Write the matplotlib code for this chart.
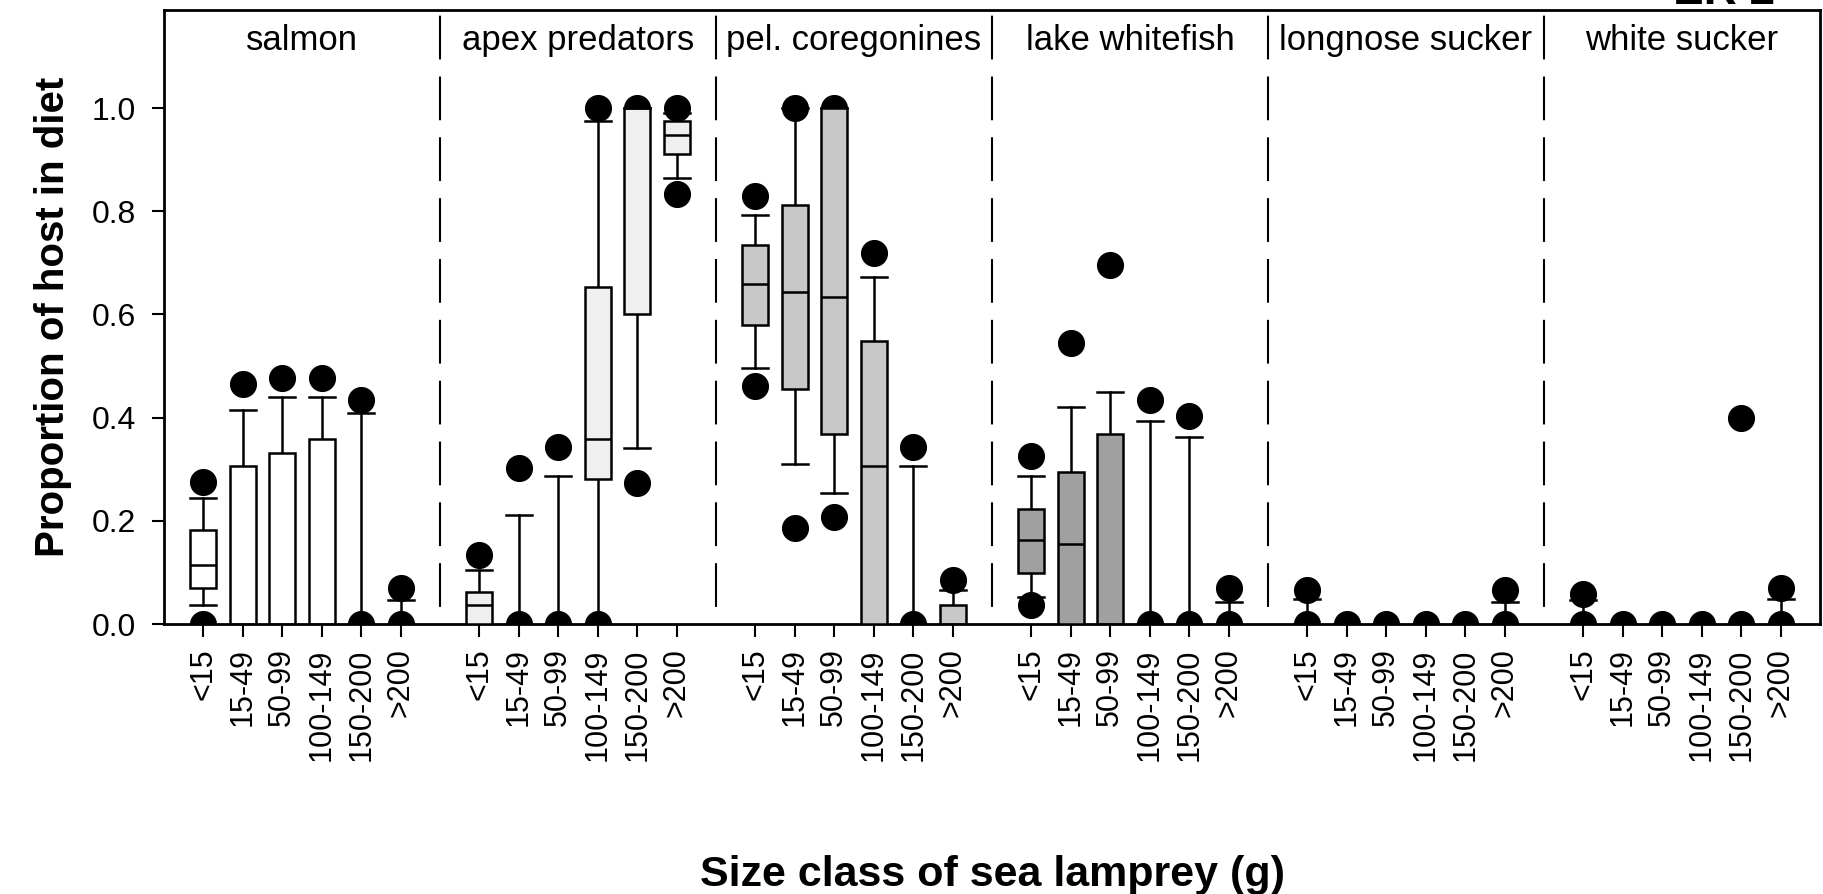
import numpy as np
import matplotlib
matplotlib.use('Agg')
import matplotlib.pyplot as plt

plt.rcParams['font.family'] = ['Liberation Sans', 'DejaVu Sans']

hosts = ['salmon', 'apex predators', 'pel. coregonines', 'lake whitefish',
         'longnose sucker', 'white sucker']
size_classes = ['<15', '15-49', '50-99', '100-149', '150-200', '>200']
host_colors = ['white', '#efefef', '#c8c8c8', '#a0a0a0', '#a0a0a0', '#a0a0a0']

# box summaries, one row per host, one column per size class
q1 = [
    [0.069, 0.0, 0.0, 0.0, 0.0, 0.0],
    [0.0, 0.0, 0.0, 0.281, 0.600, 0.911],
    [0.579, 0.456, 0.368, 0.0, 0.0, 0.0],
    [0.098, 0.0, 0.0, 0.0, 0.0, 0.0],
    [0.0, 0.0, 0.0, 0.0, 0.0, 0.0],
    [0.0, 0.0, 0.0, 0.0, 0.0, 0.0],
]
med = [
    [0.114, 0.0, 0.0, 0.0, 0.0, 0.0],
    [0.037, 0.0, 0.0, 0.358, 1.0, 0.947],
    [0.658, 0.643, 0.633, 0.307, 0.0, 0.0],
    [0.162, 0.156, 0.0, 0.0, 0.0, 0.0],
    [0.0, 0.0, 0.0, 0.0, 0.0, 0.0],
    [0.0, 0.0, 0.0, 0.0, 0.0, 0.0],
]
q3 = [
    [0.182, 0.307, 0.331, 0.358, 0.0, 0.0],
    [0.062, 0.0, 0.0, 0.653, 1.0, 0.974],
    [0.735, 0.813, 1.0, 0.549, 0.0, 0.037],
    [0.223, 0.295, 0.368, 0.0, 0.0, 0.0],
    [0.0, 0.0, 0.0, 0.0, 0.0, 0.0],
    [0.0, 0.0, 0.0, 0.0, 0.0, 0.0],
]
whislo = [
    [0.037, 0.0, 0.0, 0.0, 0.0, 0.0],
    [0.0, 0.0, 0.0, 0.0, 0.342, 0.865],
    [0.497, 0.311, 0.253, 0.0, 0.0, 0.0],
    [0.052, 0.0, 0.0, 0.0, 0.0, 0.0],
    [0.0, 0.0, 0.0, 0.0, 0.0, 0.0],
    [0.0, 0.0, 0.0, 0.0, 0.0, 0.0],
]
whishi = [
    [0.244, 0.415, 0.440, 0.440, 0.409, 0.047],
    [0.104, 0.212, 0.286, 0.974, 1.0, 0.99],
    [0.792, 1.0, 1.0, 0.673, 0.307, 0.065],
    [0.286, 0.420, 0.449, 0.394, 0.363, 0.042],
    [0.049, 0.0, 0.0, 0.0, 0.0, 0.042],
    [0.047, 0.0, 0.0, 0.0, 0.0, 0.049],
]
outliers = [
    [[0.276, 0.0], [0.466, 0.0], [0.476, 0.0], [0.476, 0.0], [0.435, 0.0], [0.069, 0.0]],
    [[0.133, 0.0], [0.302, 0.0], [0.343, 0.0], [1.0, 0.0], [1.0, 0.273], [1.0, 0.834]],
    [[0.830, 0.461], [1.0, 0.187], [1.0, 0.208], [0.719, 0.0], [0.343, 0.0], [0.085, 0.0]],
    [[0.326, 0.037], [0.544, 0.0], [0.695, 0.0], [0.435, 0.0], [0.404, 0.0], [0.069, 0.0]],
    [[0.066, 0.0], [0.0], [0.0], [0.0], [0.0], [0.066, 0.0]],
    [[0.059, 0.0], [0.0], [0.0], [0.0], [0.399, 0.0], [0.069, 0.0]],
]

fig = plt.figure(figsize=(18.23, 8.94), dpi=100)
ax = fig.add_axes([164 / 1823, 270 / 894, 1656 / 1823, 614 / 894])

nclass = len(size_classes)
slot = nclass + 1
lw = 1.8
all_pos = []
for i, host in enumerate(hosts):
    stats = []
    for j in range(nclass):
        stats.append(dict(med=med[i][j], q1=q1[i][j], q3=q3[i][j],
                          whislo=whislo[i][j], whishi=whishi[i][j],
                          fliers=outliers[i][j]))
    pos = [slot * i + j + 1 for j in range(nclass)]
    all_pos += pos
    ax.bxp(stats, positions=pos, widths=0.66, capwidths=0.66,
           patch_artist=True, manage_ticks=False,
           boxprops=dict(facecolor=host_colors[i], edgecolor='black', linewidth=lw, zorder=3),
           medianprops=dict(color='black', linewidth=lw, zorder=4),
           whiskerprops=dict(color='black', linewidth=lw, zorder=2),
           capprops=dict(color='black', linewidth=lw, zorder=2),
           flierprops=dict(marker='o', markerfacecolor='black', markeredgecolor='black',
                           markersize=18.5, linestyle='none', zorder=2))
    ax.text(slot * i + slot / 2, 1.112, host, ha='center', va='baseline', fontsize=25)
    if i > 0:
        ax.axvline(slot * i, color='black', linewidth=1.5,
                   linestyle=(21, (21, 8.2)), zorder=1)

ax.set_xlim(0, slot * len(hosts))
ax.set_ylim(0, 1.19)
ax.set_xticks(all_pos)
ax.set_xticklabels(size_classes * len(hosts), rotation=90, fontsize=22)
ax.set_yticks(np.arange(0, 1.01, 0.2))
ax.set_yticklabels(['%.1f' % v for v in np.arange(0, 1.01, 0.2)], fontsize=23)
ax.tick_params(axis='x', length=9.5, width=1.5, pad=8)
ax.tick_params(axis='y', length=9, width=1.5, pad=11)
for s in ax.spines.values():
    s.set_linewidth(2)

ax.set_ylabel('Proportion of host in diet', fontsize=29, fontweight='bold', labelpad=14)
fig.text(992 / 1823, 1 - 886 / 894, 'Size class of sea lamprey (g)', ha='center',
         va='baseline', fontsize=31, fontweight='bold')
fig.text(1724 / 1823, 1 - 4 / 894, 'ER 2', ha='center', va='baseline',
         fontsize=33, fontweight='bold')

fig.savefig('out.png', dpi=100)
